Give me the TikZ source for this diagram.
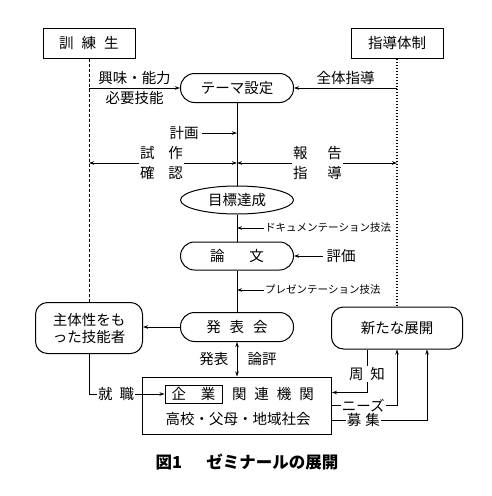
\documentclass[tikz,border=0pt]{standalone}
\usepackage{fontspec}
\setmainfont{Noto Sans CJK JP}
\usetikzlibrary{arrows.meta,positioning,calc,shapes.geometric}

\begin{document}
\begin{tikzpicture}[
  x=1pt,y=-1pt,
  font=\fontsize{14.5}{17}\selectfont,
  box/.style={draw,line width=1pt,minimum width=92pt,minimum height=30pt,inner sep=0pt},
  pill/.style={draw,line width=1pt,rounded corners=14pt,minimum width=113pt,minimum height=29pt,inner sep=0pt},
  oval/.style={draw,ellipse,line width=1pt,minimum width=113pt,minimum height=28pt,inner sep=0pt},
  goalbox/.style={draw,line width=1pt,rounded corners=12pt,align=center,inner sep=0pt},
  arrow/.style={-{Stealth[length=5pt,width=3.5pt]},line width=0.8pt},
  twoway/.style={{Stealth[length=5pt,width=3.5pt]}-{Stealth[length=5pt,width=3.5pt]},line width=0.8pt},
  plain/.style={line width=0.8pt},
  side/.style={font=\fontsize{10.5}{13}\selectfont,inner sep=1pt},
  pair/.style={align=center,inner sep=1pt,font=\fontsize{14.5}{20}\selectfont},
  edgeword/.style={fill=white,inner sep=1pt},
  trainline/.style={line width=0.8pt,dash pattern=on 3pt off 2pt},
  staffline/.style={line width=1.2pt,dash pattern=on 1.4pt off 1.6pt}
]
\useasboundingbox (0,0) rectangle (492,496);

\node[box] (trainee) at (89,43) {訓\hspace{8pt}練\hspace{8pt}生};
\node[box] (staff) at (397,43) {指導体制};
\node[pill] (theme) at (237,88) {テーマ設定};
\node[oval] (goal) at (237,200) {目標達成};
\node[pill,minimum height=28pt] (thesis) at (237,256) {論\hspace{25pt}文};
\node[pill] (meeting) at (237,327) {発\hspace{9pt}表\hspace{9pt}会};
\node[goalbox,minimum width=107pt,minimum height=51pt] (skilled) at (89,328) {主体性をも\\った技能者};
\node[goalbox,minimum width=131pt,minimum height=42pt] (future) at (397,328) {新たな展開};
\node[draw,line width=1pt,minimum width=189pt,minimum height=57pt] (partners) at (237,405.5) {};
\node[draw,line width=0.9pt,minimum width=57pt,minimum height=18pt,inner sep=0pt] (firm) at (193.5,394) {企\hspace{15pt}業};
\node (related) at (273,394) {関\hspace{8pt}連\hspace{8pt}機\hspace{8pt}関};
\node (local) at (238,419) {高校・父母・地域社会};

\node (plan) at (184,133) {計画};
\node[pair] (trial) at (161.5,163) {試\hspace{14pt}作\\確\hspace{14pt}認};
\node[pair] (report) at (317.5,163) {報\hspace{20pt}告\\指\hspace{20pt}導};
\node[side,anchor=west] (docs) at (264,228) {ドキュメンテーション技法};
\node (rating) at (341,256) {評価};
\node[side,anchor=west] (talk) at (264,290) {プレゼンテーション技法};

% dashed guide lines
\draw[trainline] (trainee) -- (skilled);
\draw[staffline] (staff) -- (future);

\draw[arrow] (trainee.south |- theme.west) -- node[above]{興味・能力} node[below]{必要技能} (theme.west);
\draw[arrow] (staff.south |- theme.east) -- node[above]{全体指導} (theme.east);

\draw[plain] (theme) -- (goal);
\draw[plain] (goal) -- (thesis);
\draw[plain] (thesis) -- (meeting);

\draw[arrow] (plan) -- (plan -| theme);
\draw[arrow] (trial) -- (trial -| trainee);
\draw[arrow] (trial) -- (trial -| theme);
\draw[arrow] (report) -- (report -| theme);
\draw[arrow] (report) -- (report -| staff);
\draw[arrow] (docs) -- (docs -| theme);
\draw[arrow] (rating) -- (thesis);
\draw[arrow] (talk) -- (talk -| theme);

\draw[arrow] (meeting.west) -- (meeting.west -| skilled.east);
\draw[twoway] (meeting) -- node[left=5pt]{発表} node[right=7pt]{論評} (partners);

\draw[arrow] (skilled) |- node[pos=0.68,edgeword]{就\hspace{7pt}職} (firm);
\draw[arrow] ([xshift=-30pt]future.south) |- node[pos=0.285,edgeword]{周\hspace{7pt}知} ([yshift=13pt]partners.east);
\draw[arrow] (partners.east) -| node[pos=0.24,edgeword]{ニーズ} (future.south);
\draw[arrow] ([yshift=-15pt]partners.east) -| node[pos=0.165,edgeword]{募\hspace{4pt}集} ([xshift=30pt]future.south);

\node[font=\fontsize{16.5}{20}\selectfont\bfseries] (caption) at (247,462) {図1\hspace{24pt}ゼミナールの展開};
\end{tikzpicture}
\end{document}
